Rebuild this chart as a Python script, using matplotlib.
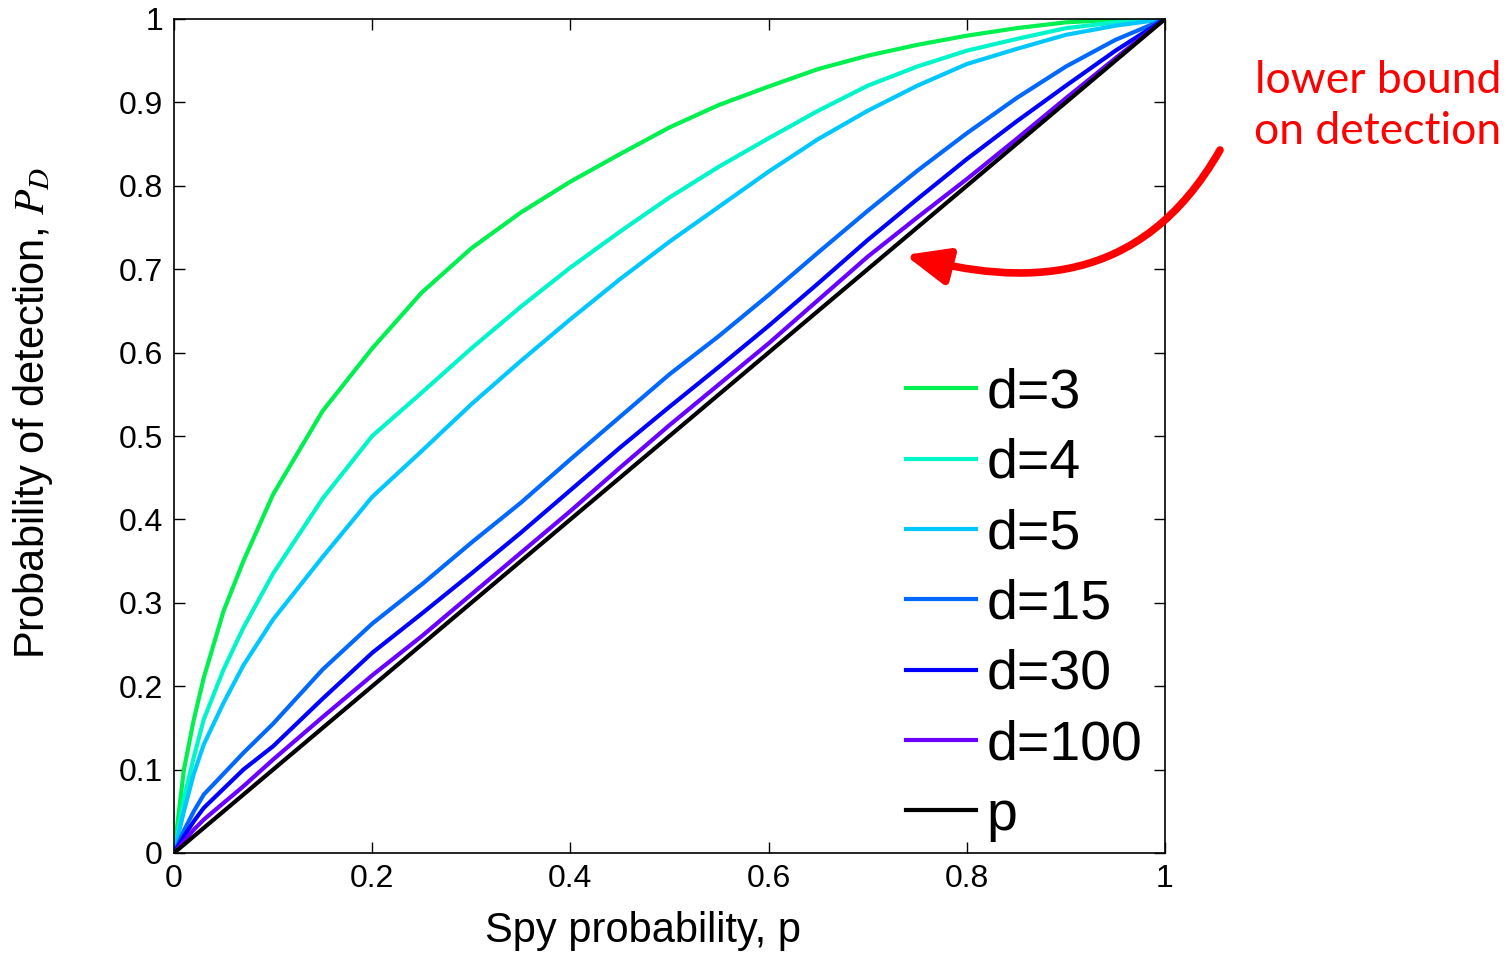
import numpy as np
import matplotlib
matplotlib.use('Agg')
import matplotlib.pyplot as plt
from matplotlib.path import Path
from matplotlib.patches import FancyArrowPatch

plt.rcParams['font.family'] = ['Liberation Sans', 'DejaVu Sans']
plt.rcParams['mathtext.fontset'] = 'stix'

# 数据: spy probability p and detection probability for each degree d
p_vals = [0, 0.01, 0.02, 0.03, 0.05, 0.07, 0.1, 0.15, 0.2, 0.25, 0.3, 0.35, 0.4,
          0.45, 0.5, 0.55, 0.6, 0.65, 0.7, 0.75, 0.8, 0.85, 0.9, 0.95, 1.0]
pd_d3 = [0, 0.10, 0.16, 0.21, 0.29, 0.35, 0.43, 0.53, 0.605, 0.672, 0.725, 0.768, 0.805,
         0.838, 0.87, 0.897, 0.919, 0.94, 0.956, 0.969, 0.98, 0.989, 0.996, 0.999, 1]
pd_d4 = [0, 0.065, 0.115, 0.16, 0.22, 0.27, 0.335, 0.425, 0.5, 0.552, 0.605, 0.655, 0.702,
         0.745, 0.786, 0.823, 0.857, 0.89, 0.92, 0.943, 0.962, 0.976, 0.989, 0.996, 1]
pd_d5 = [0, 0.05, 0.095, 0.13, 0.18, 0.225, 0.28, 0.355, 0.427, 0.482, 0.538, 0.59, 0.64,
         0.688, 0.733, 0.775, 0.817, 0.856, 0.89, 0.92, 0.946, 0.964, 0.981, 0.992, 1]
pd_d15 = [0, 0.027, 0.05, 0.07, 0.095, 0.12, 0.155, 0.22, 0.275, 0.322, 0.372, 0.42, 0.472,
          0.523, 0.574, 0.62, 0.669, 0.72, 0.77, 0.818, 0.863, 0.905, 0.943, 0.975, 1]
pd_d30 = [0, 0.02, 0.038, 0.054, 0.077, 0.1, 0.128, 0.185, 0.24, 0.287, 0.335, 0.384, 0.435,
          0.486, 0.535, 0.583, 0.632, 0.683, 0.735, 0.784, 0.832, 0.877, 0.92, 0.962, 1]
pd_d100 = [0, 0.014, 0.028, 0.04, 0.06, 0.08, 0.112, 0.163, 0.213, 0.26, 0.31, 0.36, 0.41,
           0.462, 0.513, 0.562, 0.611, 0.663, 0.715, 0.762, 0.808, 0.856, 0.905, 0.953, 1]
pd_p = p_vals

labels = ['d=3', 'd=4', 'd=5', 'd=15', 'd=30', 'd=100', 'p']
series = [pd_d3, pd_d4, pd_d5, pd_d15, pd_d30, pd_d100, pd_p]
colors = ['#00f050', '#00f5c8', '#00c8ff', '#0068ff', '#0000ff', '#6a00ff', 'k']

fig = plt.figure(figsize=(15.08, 9.58), dpi=100)
ax = fig.add_axes([174 / 1508, 1 - 853 / 958, 991 / 1508, 834 / 958])

for ys, c, lab in zip(series, colors, labels):
    ax.plot(p_vals, ys, color=c, lw=3, label=lab)

ax.set_xlim(0, 1)
ax.set_ylim(0, 1)
ax.set_xticks(np.arange(0, 1.01, 0.2))
ax.set_yticks(np.arange(0, 1.01, 0.1))
ax.xaxis.set_major_formatter(matplotlib.ticker.FormatStrFormatter('%g'))
ax.yaxis.set_major_formatter(matplotlib.ticker.FormatStrFormatter('%g'))
ax.tick_params(direction='in', length=8, width=1, top=True, right=True,
               labelsize=23, pad=8)
for s in ax.spines.values():
    s.set_linewidth(1.2)

ax.set_xlabel('Spy probability, p', fontsize=30)
ax.xaxis.set_label_coords(0.473, -0.07)
ax.set_ylabel('Probability of detection, $P_D$', fontsize=30)
ax.yaxis.set_label_coords(-0.12, 0.528)

leg = ax.legend(loc='upper left', bbox_to_anchor=(0.739, 0.582), frameon=False,
                fontsize=40, handlelength=1.25, handletextpad=0.2,
                labelspacing=0.33, borderpad=0, borderaxespad=0)

# 注释
fig.text(1378 / 1508, 1 - 106 / 958, 'lower bound\non detection', color='red',
         fontsize=32, family=['Lato', 'DejaVu Sans'], ha='center', va='center',
         linespacing=1.3)

def fpt(x, y):
    return (x / 1508, 1 - y / 958)

verts = [fpt(1220, 150), fpt(1140, 290), fpt(1020, 285), fpt(905, 255)]
codes = [Path.MOVETO, Path.CURVE4, Path.CURVE4, Path.CURVE4]
arrow = FancyArrowPatch(path=Path(verts, codes), transform=fig.transFigure,
                        arrowstyle='-|>,head_length=1.3,head_width=0.55',
                        mutation_scale=20, lw=5.5, color='red')
fig.patches.append(arrow)

fig.savefig('out.png', dpi=100)
